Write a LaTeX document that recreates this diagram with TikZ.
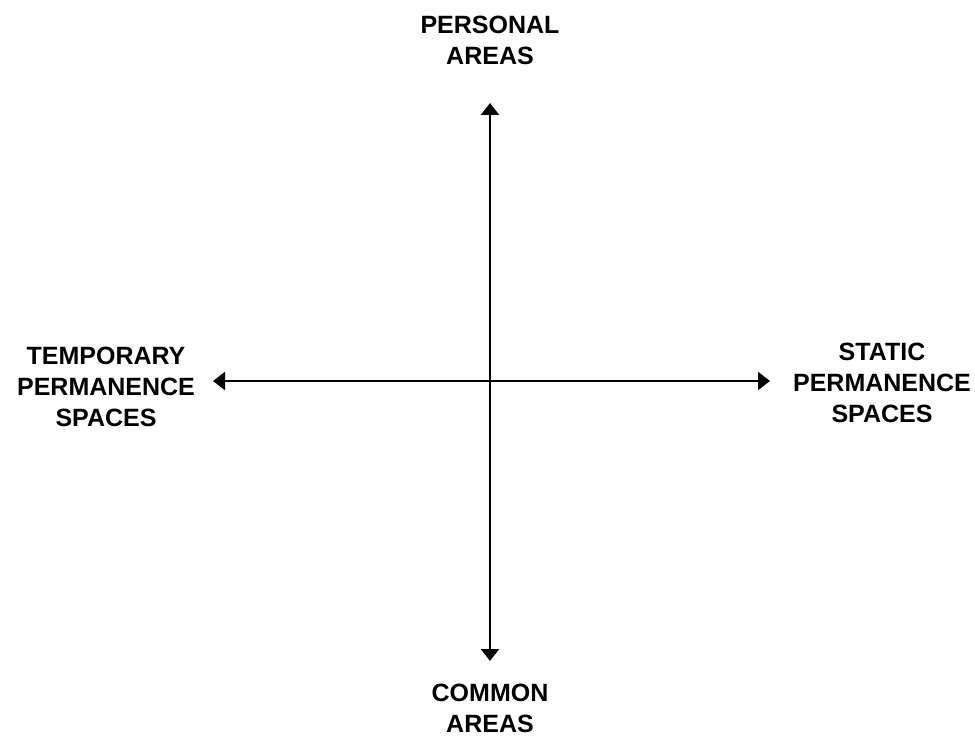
\documentclass[tikz,border=0pt]{standalone}
\usepackage{fontspec}
\setmainfont{Liberation Sans}
\usetikzlibrary{arrows.meta, positioning}

\begin{document}
\begin{tikzpicture}[
  x=1pt, y=-1pt,
  >={Triangle[length=12pt, width=18pt]},
  axis/.style={<->, line width=2.2pt, black},
  lbl/.style={align=center, inner sep=0pt, font=\fontsize{25}{31}\selectfont\bfseries},
]
\useasboundingbox (0,0) rectangle (975,738);

% axis ends
\coordinate (top) at (490,103);
\coordinate (bottom) at (490,661);
\coordinate (left) at (213,381);
\coordinate (right) at (770,381);

% labels
\node[lbl] (personal) at (490,40) {PERSONAL\\AREAS};
\node[lbl] (common) at (490,708) {COMMON\\AREAS};
\node[lbl] (temporary) at (106,387) {TEMPORARY\\PERMANENCE\\SPACES};
\node[lbl] (static) at (882,383) {STATIC\\PERMANENCE\\SPACES};

% axes
\draw[axis] (top) -- (bottom);
\draw[axis] (left) -- (right);

\end{tikzpicture}
\end{document}
